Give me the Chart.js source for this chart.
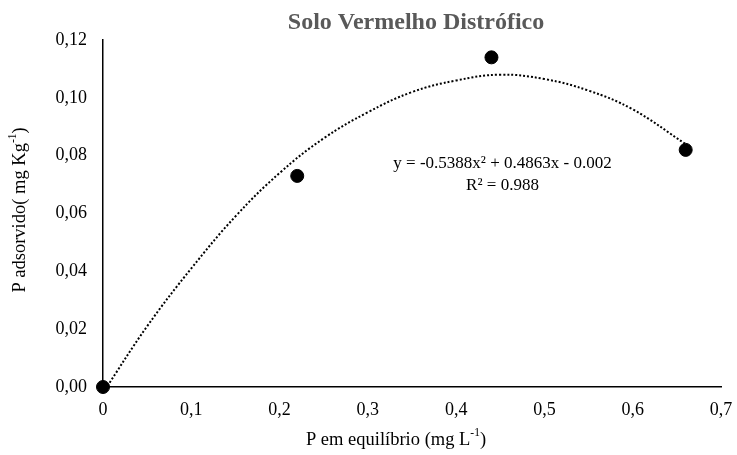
<!DOCTYPE html>
<html>
<head>
<meta charset="utf-8">
<script src="https://cdn.jsdelivr.net/npm/chart.js@4.4.1/dist/chart.umd.min.js"></script>
<style>
  html, body { margin: 0; padding: 0; background: #fff; }
  #wrap { width: 737px; height: 455px; }
</style>
</head>
<body>
<div id="wrap"><canvas id="chart"></canvas></div>
<script>
// Observed data (P em equilibrio vs P adsorvido)
const xValues = [0, 0.22, 0.44, 0.66];
const yValues = [0, 0.073, 0.114, 0.082];

// Dotted trend curve
const trendX = [0, 0.05, 0.1, 0.15, 0.2, 0.25, 0.3, 0.35, 0.4, 0.45, 0.5, 0.55, 0.6, 0.66];
const trendY = [-0.002, 0.021, 0.041, 0.059, 0.074, 0.086, 0.095, 0.102, 0.106, 0.108, 0.1065, 0.1025, 0.096, 0.084];

const xTicks = [0, 0.1, 0.2, 0.3, 0.4, 0.5, 0.6, 0.7];
const yTicks = [0, 0.02, 0.04, 0.06, 0.08, 0.10, 0.12];

const chartTitle = 'Solo Vermelho Distrófico';
const equation = 'y = -0.5388x² + 0.4863x - 0.002';
const rSquared = 'R² = 0.988';

const serif = '"Liberation Serif", "Times New Roman", serif';

// draw text parts, some of them as superscript
function drawParts(ctx, parts, size) {
    let total = 0;
    parts.forEach(p => {
        ctx.font = (p.sup ? size * 0.62 : size) + 'px ' + serif;
        p.w = ctx.measureText(p.t).width;
        total += p.w;
    });
    let x = -total / 2;
    parts.forEach(p => {
        ctx.font = (p.sup ? size * 0.62 : size) + 'px ' + serif;
        ctx.fillText(p.t, x, p.sup ? -size * 0.38 : 0);
        x += p.w;
    });
}

const textPlugin = {
    id: 'texts',
    afterDraw(chart) {
        const ctx = chart.ctx;
        const xs = chart.scales.x, ys = chart.scales.y;
        ctx.save();
        ctx.textBaseline = 'middle';

        // title
        ctx.fillStyle = '#595959';
        ctx.textAlign = 'center';
        ctx.font = 'bold 24px ' + serif;
        ctx.fillText(chartTitle, 416, 23);

        // trendline equation
        ctx.fillStyle = '#000';
        ctx.font = '17px ' + serif;
        ctx.fillText(equation, xs.getPixelForValue(0.4525), ys.getPixelForValue(0.0774));
        ctx.fillText(rSquared, xs.getPixelForValue(0.4525), ys.getPixelForValue(0.0698));

        // x axis title
        ctx.textAlign = 'left';
        ctx.save();
        ctx.translate(396, 440);
        drawParts(ctx, [{ t: 'P em equilíbrio (mg L' }, { t: '-1', sup: true }, { t: ')' }], 18.5);
        ctx.restore();

        // y axis title
        ctx.save();
        ctx.translate(20, 210);
        ctx.rotate(-Math.PI / 2);
        drawParts(ctx, [{ t: 'P adsorvido( mg Kg' }, { t: '-1', sup: true }, { t: ')' }], 18.5);
        ctx.restore();

        ctx.restore();
    }
};

function commaLabel(v, digits) {
    if (v === 0 && digits === 1) return '0';
    return v.toFixed(digits).replace('.', ',');
}

const ctx = document.getElementById('chart').getContext('2d');
new Chart(ctx, {
    type: 'scatter',
    data: {
        datasets: [
            {
                label: 'Trend',
                data: trendX.map((x, i) => ({ x: x, y: trendY[i] })),
                showLine: true,
                borderColor: '#000',
                borderWidth: 2,
                borderDash: [2, 2],
                pointRadius: 0,
                tension: 0.4,
                fill: false
            },
            {
                label: 'P adsorvido',
                data: xValues.map((x, i) => ({ x: x, y: yValues[i] })),
                backgroundColor: '#000',
                borderColor: '#000',
                pointRadius: 6.5,
                pointHoverRadius: 6.5
            }
        ]
    },
    options: {
        responsive: true,
        maintainAspectRatio: false,
        animation: false,
        clip: false,
        layout: { padding: { top: 40, right: 16, left: 0, bottom: 0 } },
        plugins: {
            legend: { display: false },
            tooltip: { enabled: false },
            title: { display: false }
        },
        scales: {
            x: {
                type: 'linear',
                min: 0,
                max: 0.7,
                afterBuildTicks: s => { s.ticks = xTicks.map(v => ({ value: v })); },
                afterFit: s => { s.height = 68; s.paddingLeft = 0; s.paddingRight = 0; },
                grid: { display: false, drawTicks: false },
                border: { display: true, color: '#000', width: 1.5 },
                ticks: {
                    color: '#000',
                    padding: 12,
                    maxRotation: 0,
                    font: { family: serif, size: 18 },
                    callback: v => commaLabel(v, 1)
                }
            },
            y: {
                type: 'linear',
                min: 0,
                max: 0.12,
                afterBuildTicks: s => { s.ticks = yTicks.map(v => ({ value: v })); },
                afterFit: s => { s.width = 103; s.paddingTop = 0; s.paddingBottom = 0; },
                grid: { display: false, drawTicks: false },
                border: { display: true, color: '#000', width: 1.5 },
                ticks: {
                    color: '#000',
                    padding: 16,
                    font: { family: serif, size: 18 },
                    callback: v => commaLabel(v, 2)
                }
            }
        }
    },
    plugins: [textPlugin]
});
</script>
</body>
</html>
